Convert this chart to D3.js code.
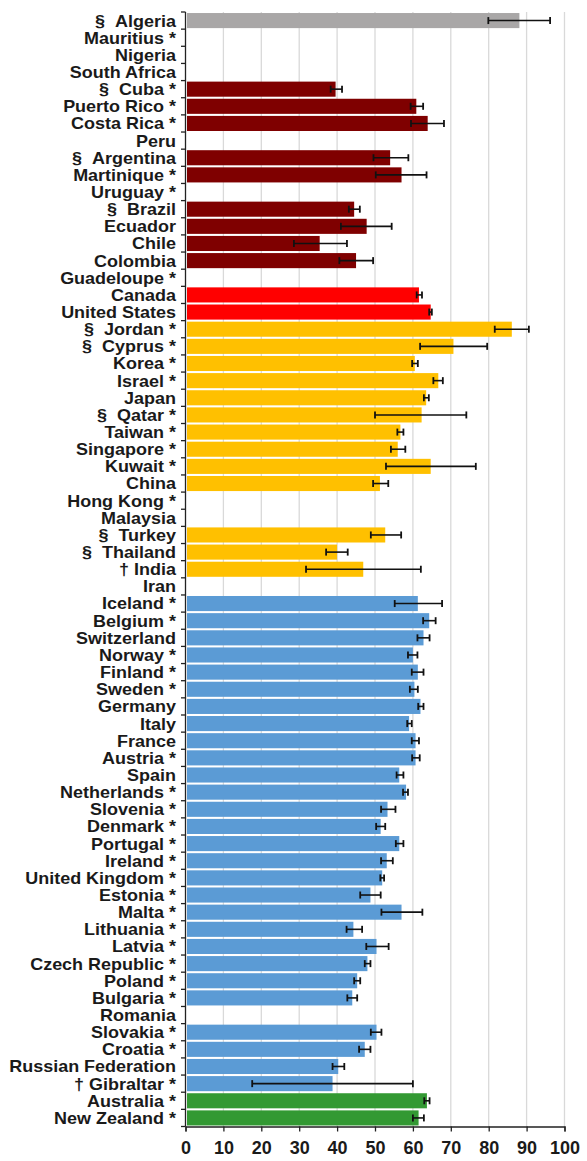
<!DOCTYPE html>
<html><head><meta charset="utf-8">
<script src="https://cdn.jsdelivr.net/npm/d3@7"></script>
<style>
html,body{margin:0;padding:0;background:#fff;}
svg{display:block;}
text{font-family:"Liberation Sans",Arial,sans-serif;font-weight:bold;fill:#1a1a1a;}
</style></head>
<body>
<svg id="c" width="587" height="1161"></svg>
<script>
const categories = ["§\u00A0\u00A0Algeria","Mauritius *","Nigeria","South Africa","§\u00A0\u00A0Cuba *","Puerto Rico *","Costa Rica *","Peru","§\u00A0\u00A0Argentina","Martinique *","Uruguay *","§\u00A0\u00A0Brazil","Ecuador","Chile","Colombia","Guadeloupe *","Canada","United States","§\u00A0\u00A0Jordan *","§\u00A0\u00A0Cyprus *","Korea *","Israel *","Japan","§\u00A0\u00A0Qatar *","Taiwan *","Singapore *","Kuwait *","China","Hong Kong *","Malaysia","§\u00A0\u00A0Turkey","§\u00A0\u00A0Thailand","† India","Iran","Iceland *","Belgium *","Switzerland","Norway *","Finland *","Sweden *","Germany","Italy","France","Austria *","Spain","Netherlands *","Slovenia *","Denmark *","Portugal *","Ireland *","United Kingdom *","Estonia *","Malta *","Lithuania *","Latvia *","Czech Republic *","Poland *","Bulgaria *","Romania","Slovakia *","Croatia *","Russian Federation","† Gibraltar *","Australia *","New Zealand *"];
const values = [88.1,null,null,null,39.6,60.9,63.9,null,54.0,57.0,null,44.5,47.8,35.4,45.0,null,61.6,64.7,86.1,70.7,60.5,66.7,63.5,62.3,56.7,56.0,64.7,51.3,null,null,52.7,40.0,46.9,null,61.3,64.3,62.8,60.0,61.3,60.4,62.0,59.0,60.7,60.7,56.4,58.2,53.3,51.5,56.4,53.1,51.9,48.8,57.0,44.3,50.4,48.0,45.3,44.0,null,50.4,47.3,40.3,38.8,63.7,61.5];
const errLow = [79.9,null,null,null,38.3,59.4,59.5,null,49.6,50.2,null,43.1,41.0,28.6,40.6,null,61.0,64.3,81.6,61.9,59.8,65.4,62.9,50.0,55.9,54.2,52.9,49.5,null,null,48.9,37.1,31.8,null,55.2,62.7,61.2,58.7,59.7,59.2,61.4,58.5,59.7,59.8,55.7,57.4,51.6,50.3,55.5,51.6,51.4,46.1,51.7,42.5,47.7,47.3,44.5,42.7,null,48.9,45.8,38.8,17.6,63.0,60.0];
const errHigh = [96.2,null,null,null,41.3,62.7,68.2,null,58.8,63.6,null,46.0,54.4,42.6,49.5,null,62.4,65.0,90.6,79.6,61.3,67.9,64.2,74.1,57.5,58.0,76.6,53.5,null,null,56.9,42.8,62.1,null,67.7,66.0,64.4,61.2,62.8,61.3,62.8,59.7,61.6,61.8,57.5,58.7,55.4,52.7,57.5,54.7,52.4,51.5,62.5,46.6,53.6,48.8,46.1,45.3,null,51.7,48.8,41.9,60.0,64.4,62.9];
const regions = ["Africa","Africa","Africa","Africa","LatAm","LatAm","LatAm","LatAm","LatAm","LatAm","LatAm","LatAm","LatAm","LatAm","LatAm","LatAm","NorthAm","NorthAm","Asia","Asia","Asia","Asia","Asia","Asia","Asia","Asia","Asia","Asia","Asia","Asia","Asia","Asia","Asia","Asia","Europe","Europe","Europe","Europe","Europe","Europe","Europe","Europe","Europe","Europe","Europe","Europe","Europe","Europe","Europe","Europe","Europe","Europe","Europe","Europe","Europe","Europe","Europe","Europe","Europe","Europe","Europe","Europe","Europe","Oceania","Oceania"];
const regionNames = ["Africa","LatAm","NorthAm","Asia","Europe","Oceania"];
const regionColors = ["#a9a7a7","#7f0000","#ff0000","#ffc000","#5b9bd5","#339933"];
const xTicks = [0,10,20,30,40,50,60,70,80,90,100];

const data = categories.map((c,i)=>({c, v:values[i], lo:errLow[i], hi:errHigh[i], r:regions[i]}));
const svg = d3.select("#c");
const x = d3.scaleLinear().domain([0,100]).range([185.5,564.5]);
const y = d3.scaleBand().domain(categories).range([12,1126.5]).paddingInner(0.12).paddingOuter(0.06);
const color = d3.scaleOrdinal().domain(regionNames).range(regionColors);

// gridlines
svg.append("g").selectAll("line").data(xTicks.slice(1)).join("line")
  .attr("x1",d=>x(d)).attr("x2",d=>x(d)).attr("y1",12).attr("y2",1126.5)
  .attr("stroke","#d9d9d9").attr("stroke-width",1.3);

// bars
svg.append("g").selectAll("rect").data(data.filter(d=>d.v!=null)).join("rect")
  .attr("x",x(0)+1.5).attr("y",d=>y(d.c))
  .attr("width",d=>x(d.v)-x(0)-1.5).attr("height",y.bandwidth())
  .attr("fill",d=>color(d.r));

// error bars
const eb = svg.append("g").selectAll("g").data(data.filter(d=>d.lo!=null)).join("g")
  .attr("transform",d=>`translate(0,${y(d.c)+y.bandwidth()/2})`);
eb.append("line").attr("x1",d=>x(d.lo)).attr("x2",d=>x(d.hi)).attr("y1",0).attr("y2",0)
  .attr("stroke","#111").attr("stroke-width",1.6);
eb.append("line").attr("x1",d=>x(d.lo)).attr("x2",d=>x(d.lo)).attr("y1",-3.5).attr("y2",3.5)
  .attr("stroke","#111").attr("stroke-width",1.8);
eb.append("line").attr("x1",d=>x(d.hi)).attr("x2",d=>x(d.hi)).attr("y1",-3.5).attr("y2",3.5)
  .attr("stroke","#111").attr("stroke-width",1.8);

// left axis: line with ticks at band boundaries
const step = (1126.5-12)/categories.length;
const bounds = d3.range(categories.length+1).map(i=>12+i*step);
const la = svg.append("g");
la.append("line").attr("x1",x(0)).attr("x2",x(0)).attr("y1",12).attr("y2",1126.5)
  .attr("stroke","#222").attr("stroke-width",1.3);
la.selectAll("line.t").data(bounds).join("line").attr("class","t")
  .attr("x1",x(0)-4.5).attr("x2",x(0)).attr("y1",d=>d).attr("y2",d=>d)
  .attr("stroke","#222").attr("stroke-width",1.3);
la.selectAll("text").data(categories).join("text")
  .attr("transform",(d,i)=>`translate(176,${12+i*step+step/2}) scale(1.09,1)`)
  .attr("dy","0.36em").attr("text-anchor","end").attr("font-size","16.5px")
  .text(d=>d);

// bottom axis
const xAxis = d3.axisBottom(x).tickValues(xTicks).tickSize(5).tickPadding(10);
const xa = svg.append("g").attr("transform","translate(0,1126.5)").call(xAxis);
xa.select(".domain").attr("stroke","#222").attr("stroke-width",1.3);
xa.selectAll(".tick line").attr("stroke","#222").attr("stroke-width",1.3);
xa.selectAll(".tick text").attr("font-size","18px").attr("fill","#1a1a1a")
  .attr("font-family","Liberation Sans, Arial, sans-serif").attr("font-weight","bold");
</script>
</body></html>
